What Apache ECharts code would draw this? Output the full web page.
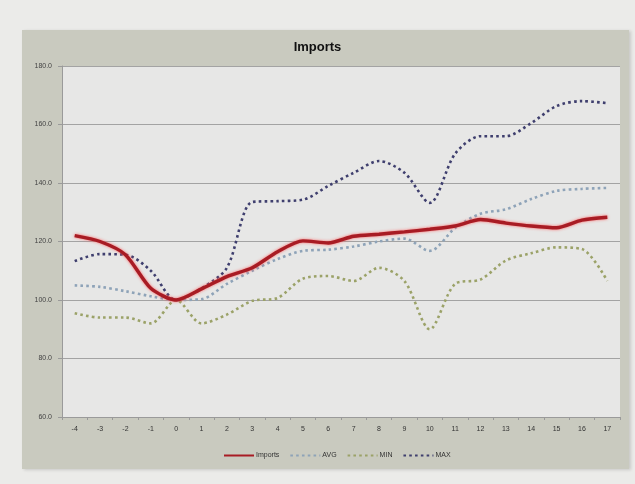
<!DOCTYPE html>
<html>
<head>
<meta charset="utf-8">
<style>
  html, body { margin: 0; padding: 0; background: #ebebe9; }
  #panel { position: absolute; left: 22px; top: 30px; width: 607px; height: 439px; background: #c9cabf; box-shadow: 2px 1px 3px rgba(0,0,0,0.15); }
  #chart { position: absolute; left: 0; top: 0; width: 635px; height: 484px; }
</style>
<script src="https://cdn.jsdelivr.net/npm/echarts@6/dist/echarts.min.js"></script>
</head>
<body>
<div id="panel"></div>
<div id="chart"></div>
<script>
// Quarters relative to the base period (0 = 100)
const categories = ['-4','-3','-2','-1','0','1','2','3','4','5','6','7','8','9','10','11','12','13','14','15','16','17'];

const imports = [122, 120, 115.5, 104, 100, 103.8, 108, 111, 116.5, 120.2, 119.5, 121.8, 122.5, 123.3, 124.2, 125.3, 127.5, 126.3, 125.3, 124.7, 127.3, 128.3];
const avg     = [105, 104.5, 103, 101.3, 100, 100.3, 105.5, 110, 114, 116.8, 117.2, 118.3, 120, 121, 116.8, 124.6, 129.5, 131, 134.5, 137.3, 138, 138.3];
const minVals = [95.5, 94, 94, 92, 100, 92, 95, 99.7, 100.7, 107.3, 108.2, 106.5, 111, 106.5, 90, 105.5, 107, 113.5, 116, 118, 117.4, 106.5];
const maxVals = [113.3, 115.7, 115.5, 110, 100, 104, 111, 133.5, 133.8, 134.3, 139, 143.5, 147.5, 143.5, 133.2, 150, 156, 156, 160.5, 166.3, 168, 167.3];

const seriesNames = ['Imports', 'AVG', 'MIN', 'MAX'];

const chart = echarts.init(document.getElementById('chart'), null, { renderer: 'canvas' });

const dotted = (color) => ({ color: color, width: 2.6, type: [2.6, 3.2] });

chart.setOption({
  backgroundColor: 'transparent',
  animation: false,
  title: {
    text: 'Imports',
    left: 'center',
    top: 36,
    textStyle: { fontFamily: 'Arial, Liberation Sans, sans-serif', fontSize: 13, fontWeight: 'bold', color: '#111' }
  },
  legend: {
    data: seriesNames,
    bottom: 20,
    left: 218,
    itemWidth: 30,
    itemHeight: 8,
    itemGap: 10,
    itemStyle: { opacity: 0 },
    textStyle: { fontFamily: 'Arial, Liberation Sans, sans-serif', fontSize: 7, color: '#333', padding: [0, 0, 0, -3] }
  },
  grid: { left: 62, right: 15, top: 66, bottom: 67, show: true, backgroundColor: '#e7e7e6', borderWidth: 0 },
  xAxis: {
    type: 'category',
    data: categories,
    boundaryGap: true,
    axisLine: { lineStyle: { color: '#9a9a9a', width: 1 } },
    axisTick: { show: true, alignWithLabel: false, length: 3, lineStyle: { color: '#9a9a9a' } },
    axisLabel: { fontFamily: 'Arial, Liberation Sans, sans-serif', fontSize: 7, color: '#333', margin: 9 }
  },
  yAxis: {
    type: 'value',
    min: 60,
    max: 180,
    interval: 20,
    axisLine: { show: true, lineStyle: { color: '#9a9a9a', width: 1 } },
    axisTick: { show: true, length: 4, lineStyle: { color: '#9a9a9a' } },
    axisLabel: {
      fontFamily: 'Arial, Liberation Sans, sans-serif', fontSize: 7, color: '#444', margin: 10,
      formatter: (v) => v.toFixed(1)
    },
    splitLine: { lineStyle: { color: '#a3a3a3', width: 1.2 } }
  },
  series: [
    {
      name: 'Imports', type: 'line', data: imports, smooth: 0.25, showSymbol: false, symbol: 'none', z: 5,
      itemStyle: { color: '#b3202a' },
      lineStyle: { color: '#a81c24', width: 3.4, shadowColor: 'rgba(255,90,90,0.9)', shadowBlur: 3 }
    },
    {
      name: 'AVG', type: 'line', data: avg, smooth: 0.3, showSymbol: false, symbol: 'none',
      itemStyle: { color: '#8ea3b8' }, lineStyle: dotted('#8ea3b8')
    },
    {
      name: 'MIN', type: 'line', data: minVals, smooth: 0.3, showSymbol: false, symbol: 'none',
      itemStyle: { color: '#9ba268' }, lineStyle: dotted('#9ba268')
    },
    {
      name: 'MAX', type: 'line', data: maxVals, smooth: 0.3, showSymbol: false, symbol: 'none',
      itemStyle: { color: '#3f3f6e' }, lineStyle: dotted('#3f3f6e')
    }
  ]
});
</script>
</body>
</html>
